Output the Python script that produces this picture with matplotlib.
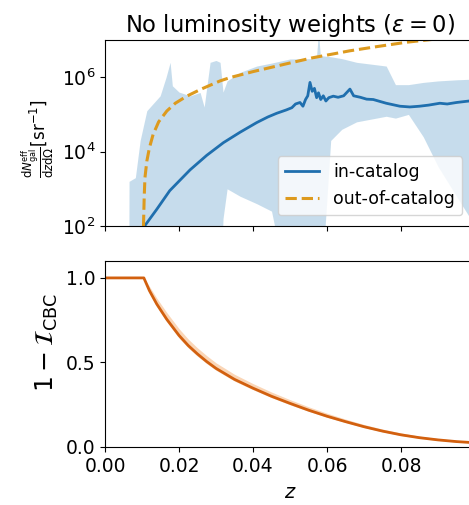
import numpy as np
import matplotlib
matplotlib.use('Agg')
import matplotlib.pyplot as plt
from matplotlib.ticker import LogLocator, NullLocator

# --- top panel: effective galaxy number density (log10 values) ---
z_in = [0.0107, 0.014, 0.0175, 0.023, 0.0275, 0.032, 0.0365, 0.041, 0.0440, 0.0464,
        0.049, 0.0505, 0.0515, 0.0527, 0.0535, 0.0542,
        0.0548, 0.0554, 0.0560, 0.0566, 0.0572, 0.0577, 0.0583, 0.0590, 0.0597, 0.0605,
        0.0617, 0.063, 0.0645, 0.0662, 0.0672, 0.0690, 0.0707, 0.0725, 0.0760, 0.0797,
        0.0824, 0.0850, 0.0875, 0.0887, 0.0905, 0.0925, 0.0950, 0.0984, 0.1]
logn_in = [2.0, 2.45, 2.95, 3.51, 3.9, 4.24, 4.52, 4.78, 4.93, 5.03,
           5.12, 5.18, 5.28, 5.32, 5.22, 5.4,
           5.5, 5.86, 5.62, 5.7, 5.45, 5.58, 5.4, 5.5, 5.36, 5.45,
           5.49, 5.46, 5.5, 5.68, 5.5, 5.46, 5.41, 5.4, 5.3, 5.22,
           5.2, 5.22, 5.25, 5.27, 5.3, 5.28, 5.32, 5.36, 5.37]

z_band = [0.0064, 0.0065, 0.0082, 0.0095, 0.0113, 0.0149, 0.0165, 0.0176, 0.0182, 0.0200,
          0.0230, 0.0257, 0.0268, 0.0284, 0.0300, 0.0311, 0.0319, 0.0330, 0.0365, 0.041,
          0.045, 0.050, 0.0560, 0.0572, 0.0577, 0.0582, 0.0610, 0.0640, 0.068, 0.076,
          0.0785, 0.0820, 0.086, 0.090, 0.095, 0.1]
logn_hi = [0.0, 3.2, 3.3, 4.3, 5.1, 5.5, 6.0, 6.4, 5.77, 5.6,
           5.5, 5.59, 5.2, 6.4, 6.45, 6.4, 5.6, 5.9, 6.13, 6.3,
           6.38, 6.49, 6.5, 6.6, 7.2, 6.58, 6.55, 6.5, 6.4, 6.3,
           5.8, 5.8, 5.86, 5.9, 5.93, 5.95]
logn_lo = [0.0, 0.0, 0.0, 0.0, 0.0, 0.0, 0.0, 0.0, 0.0, 0.0,
           0.0, 0.0, 0.0, 0.0, 0.0, 0.0, 2.2, 3.0, 2.8, 2.6,
           2.4, 0.0, 0.0, 0.0, 0.0, 0.0, 4.3, 4.6, 4.8, 4.95,
           4.9, 5.0, 4.4, 3.6, 2.8, 2.0]

z_out = [0.0104, 0.0106, 0.0108, 0.0113, 0.0120, 0.0130, 0.0145, 0.0167, 0.0190, 0.0221,
         0.0260, 0.0311, 0.0338, 0.040, 0.0486, 0.0560, 0.0662, 0.0740, 0.0815, 0.0870,
         0.0924, 0.1]
logn_out = [2.0, 2.8, 3.3, 3.74, 4.1, 4.46, 4.8, 5.09, 5.3, 5.49,
            5.68, 5.9, 5.99, 6.15, 6.35, 6.52, 6.71, 6.83, 6.94, 7.0,
            7.06, 7.15]

# --- bottom panel: 1 - I_CBC ---
z_cbc = [0.0, 0.0105, 0.012, 0.014, 0.0167, 0.020, 0.0225, 0.025, 0.0275, 0.030,
         0.035, 0.040, 0.045, 0.050, 0.055, 0.060, 0.065, 0.070, 0.075, 0.080,
         0.085, 0.090, 0.095, 0.1]
cbc_med = [1.0, 1.0, 0.925, 0.845, 0.755, 0.66, 0.60, 0.55, 0.505, 0.465,
           0.40, 0.348, 0.30, 0.258, 0.218, 0.182, 0.15, 0.12, 0.094, 0.072,
           0.055, 0.042, 0.032, 0.025]
cbc_lo = [1.0, 1.0, 0.91, 0.83, 0.74, 0.645, 0.586, 0.537, 0.493, 0.454,
          0.39, 0.339, 0.292, 0.25, 0.211, 0.176, 0.145, 0.115, 0.09, 0.068,
          0.052, 0.039, 0.029, 0.022]
cbc_hi = [1.0, 1.0, 0.95, 0.88, 0.795, 0.70, 0.638, 0.586, 0.54, 0.498,
          0.43, 0.375, 0.325, 0.28, 0.238, 0.2, 0.165, 0.133, 0.106, 0.083,
          0.064, 0.05, 0.039, 0.031]

fs = 13.5

fig = plt.figure(figsize=(4.69, 5.05), dpi=100)
ax_n = fig.add_axes([105/469, 1-226/505, 370/469, 186/505])
ax_c = fig.add_axes([105/469, 1-447/505, 370/469, 186/505])

# top panel
ax_n.fill_between(z_band, 10**np.array(logn_lo), 10**np.array(logn_hi),
                  color='C0', alpha=0.25, lw=0)
ax_n.plot(z_in, 10**np.array(logn_in), c='#1f6fae', lw=2, label='in-catalog')
ax_n.plot(z_out, 10**np.array(logn_out), c='#dd9a1e', lw=2.2, ls='--', label='out-of-catalog')
ax_n.set_yscale('log')
ax_n.set_xlim([0, 0.1])
ax_n.set_ylim([1e2, 1e7])
ax_n.yaxis.set_major_locator(LogLocator(base=100))
ax_n.yaxis.set_minor_locator(NullLocator())
ax_n.set_xticks([0, 0.02, 0.04, 0.06, 0.08])
ax_n.set_xticklabels([])
ax_n.tick_params(labelsize=fs)
ax_n.set_ylabel(r'$\frac{\mathrm{d}N_\mathrm{gal}^\mathrm{eff}}{\mathrm{d}z\mathrm{d}\Omega}[\mathrm{sr}^{-1}]$',
                fontsize=12, y=0.47)
ax_n.set_title(r'No luminosity weights ($\varepsilon=0$)', fontsize=16.3)
ax_n.legend(loc='lower right', fontsize=12.5, borderaxespad=0,
            bbox_to_anchor=(0.965, 0.059))

# bottom panel
ax_c.fill_between(z_cbc, cbc_lo, cbc_hi, color='#f4a460', alpha=0.45, lw=0)
ax_c.plot(z_cbc, cbc_med, c='#d2600f', lw=2)
ax_c.set_xlim([0, 0.1])
ax_c.set_ylim([0, 1.1])
ax_c.set_xticks([0, 0.02, 0.04, 0.06, 0.08])
ax_c.set_xticklabels(['0.00', '0.02', '0.04', '0.06', '0.08'])
ax_c.set_yticks([0, 0.5, 1.0])
ax_c.tick_params(labelsize=fs)
ax_c.set_xlabel(r'$z$', fontsize=14, labelpad=5)
ax_c.set_ylabel(r'$1-\mathcal{I}_\mathrm{CBC}$', fontsize=18, y=0.56)

fig.savefig('out.png', dpi=100)
